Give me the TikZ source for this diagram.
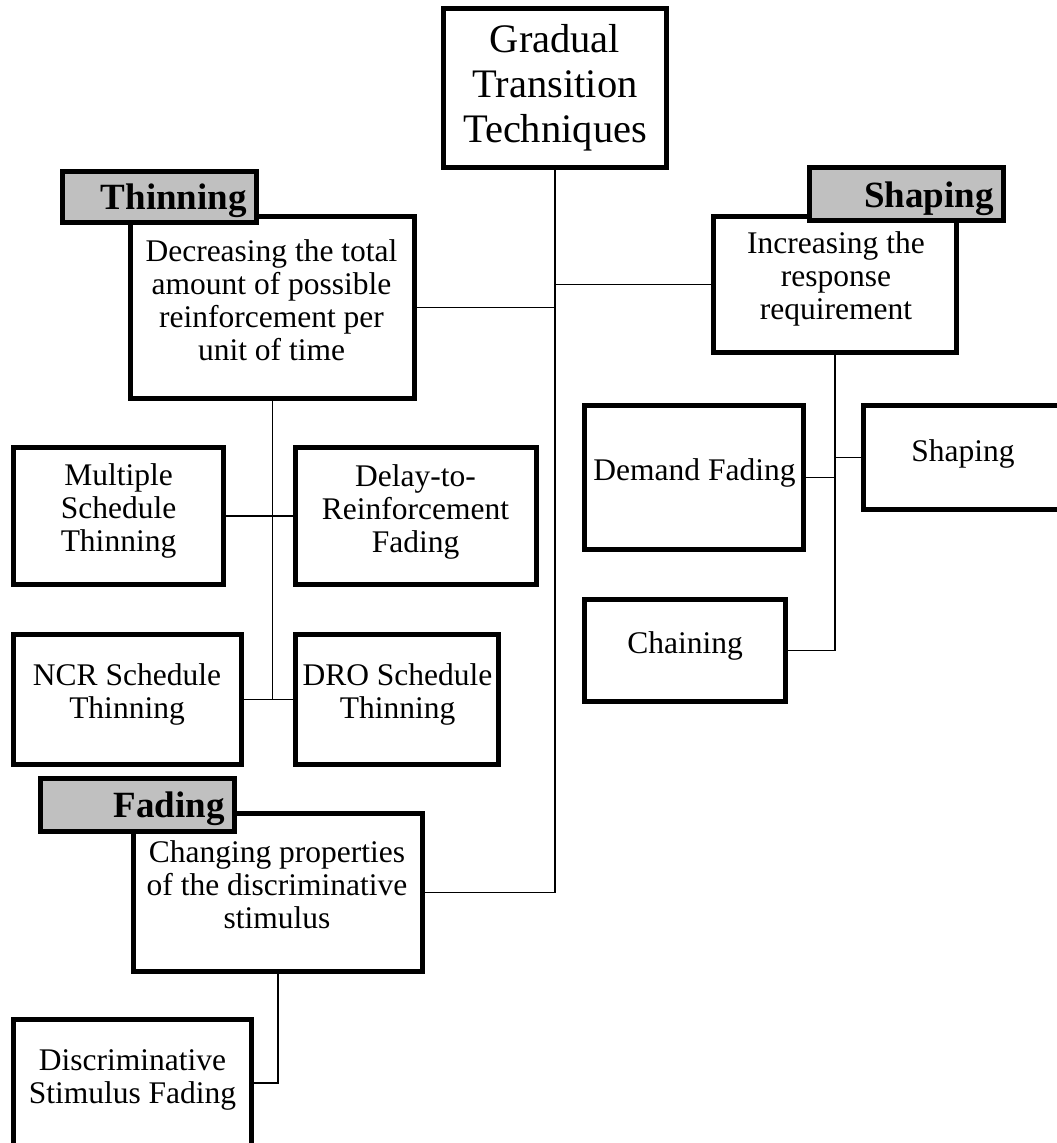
\documentclass[tikz,border=0pt]{standalone}
\usepackage{fontspec}
\setmainfont{Liberation Serif}
\definecolor{labelgray}{HTML}{C0C0C0}
\begin{document}
\begin{tikzpicture}[x=1pt,y=-1pt,
  box/.style={draw=black, line width=5pt, fill=white, rectangle, inner sep=0pt},
  lab/.style={box, fill=labelgray},
  conn/.style={draw=black, line width=1.4pt},
  txt/.style={inner sep=0pt, align=center, anchor=north, font=\fontsize{31.5}{33}\selectfont},
  txtone/.style={inner sep=0pt, anchor=base, font=\fontsize{31.5}{33}\selectfont},
  ttl/.style={inner sep=0pt, align=center, anchor=north, font=\fontsize{40.5}{45}\selectfont},
  labt/.style={inner sep=0pt, anchor=base east, font=\fontsize{37}{40}\selectfont\bfseries}]
\fill[white] (0,0) rectangle (1057,1143);
\useasboundingbox (0,0) rectangle (1057,1143);

% main boxes
\node[box, minimum width=223pt, minimum height=159pt] (title) at (555,88) {};
\node[box, minimum width=284pt, minimum height=182pt] (thinB) at (272.5,307.5) {};
\node[box, minimum width=243pt, minimum height=136pt] (shapB) at (835,284.5) {};
\node[box, minimum width=289pt, minimum height=158pt] (fadB) at (278,892.5) {};
% leaf boxes
\node[box, minimum width=219pt, minimum height=144pt] (demand) at (694,477.5) {};
\node[box, minimum width=204pt, minimum height=104pt] (shapS) at (965.5,457.5) {};
\node[box, minimum width=201pt, minimum height=102pt] (chain) at (685,650.5) {};
\node[box, minimum width=210pt, minimum height=137pt] (mult) at (118.5,516) {};
\node[box, minimum width=241pt, minimum height=137pt] (delay) at (416,516) {};
\node[box, minimum width=228pt, minimum height=130pt] (ncr) at (127.5,699.5) {};
\node[box, minimum width=203pt, minimum height=130pt] (dro) at (397,699.5) {};
\node[box, minimum width=238pt, minimum height=142pt] (disc) at (132.5,1090.5) {};
% category labels (on top of the main boxes)
\node[lab, minimum width=194pt, minimum height=51pt] (thinL) at (159.5,197) {};
\node[lab, minimum width=194pt, minimum height=53pt] (shapL) at (906.5,194) {};
\node[lab, minimum width=194pt, minimum height=53pt] (fadL) at (137.5,805) {};

% connectors
\draw[conn] (title.south) |- (fadB.east);
\draw[conn] (thinB.east) -- (thinB.east -| title.south);
\draw[conn] (shapB.west) -- (shapB.west -| title.south);
\draw[conn] (thinB.south) -- (thinB.south |- ncr.east);
\draw[conn] (mult.east) -- (delay.west);
\draw[conn] (ncr.east) -- (dro.west);
\draw[conn] (shapB.south) |- (chain.east);
\draw[conn] (demand.east) -- (demand.east -| shapB.south);
\draw[conn] (shapS.west) -- (shapS.west -| shapB.south);
\coordinate (discin) at ([yshift=7.5pt]disc.east);
\draw[conn] (fadB.south) |- (discin);

% texts
\node[ttl] (titleT) at (555,20.5) {\strut Gradual\\Transition\\Techniques};
\node[labt] (thinLT) at (247,209) {Thinning};
\node[labt] (shapLT) at (994,207) {Shaping};
\node[labt] (fadLT) at (225,817) {Fading};
\node[txt] (thinT) at (271.5,237.9) {\strut Decreasing the total\\amount of possible\\reinforcement per\\unit of time};
\node[txt] (shapT) at (836,230.4) {\strut Increasing the\\response\\requirement};
\node[txt] (fadT) at (277,838.9) {\strut Changing properties\\of the discriminative\\stimulus};
\node[txtone] (demT) at (694.5,480) {Demand Fading};
\node[txtone] (shapST) at (963,461) {Shaping};
\node[txtone] (chainT) at (685,653) {Chaining};
\node[txt] (multT) at (118.5,461.9) {\strut Multiple\\Schedule\\Thinning};
\node[txt] (delayT) at (415.5,462.9) {\strut Delay-to-\\Reinforcement\\Fading};
\node[txt] (ncrT) at (127,661.9) {\strut NCR Schedule\\Thinning};
\node[txt] (droT) at (397.5,661.9) {\strut DRO Schedule\\Thinning};
\node[txt] (discT) at (132.5,1046.9) {\strut Discriminative\\Stimulus Fading};
\end{tikzpicture}
\end{document}
